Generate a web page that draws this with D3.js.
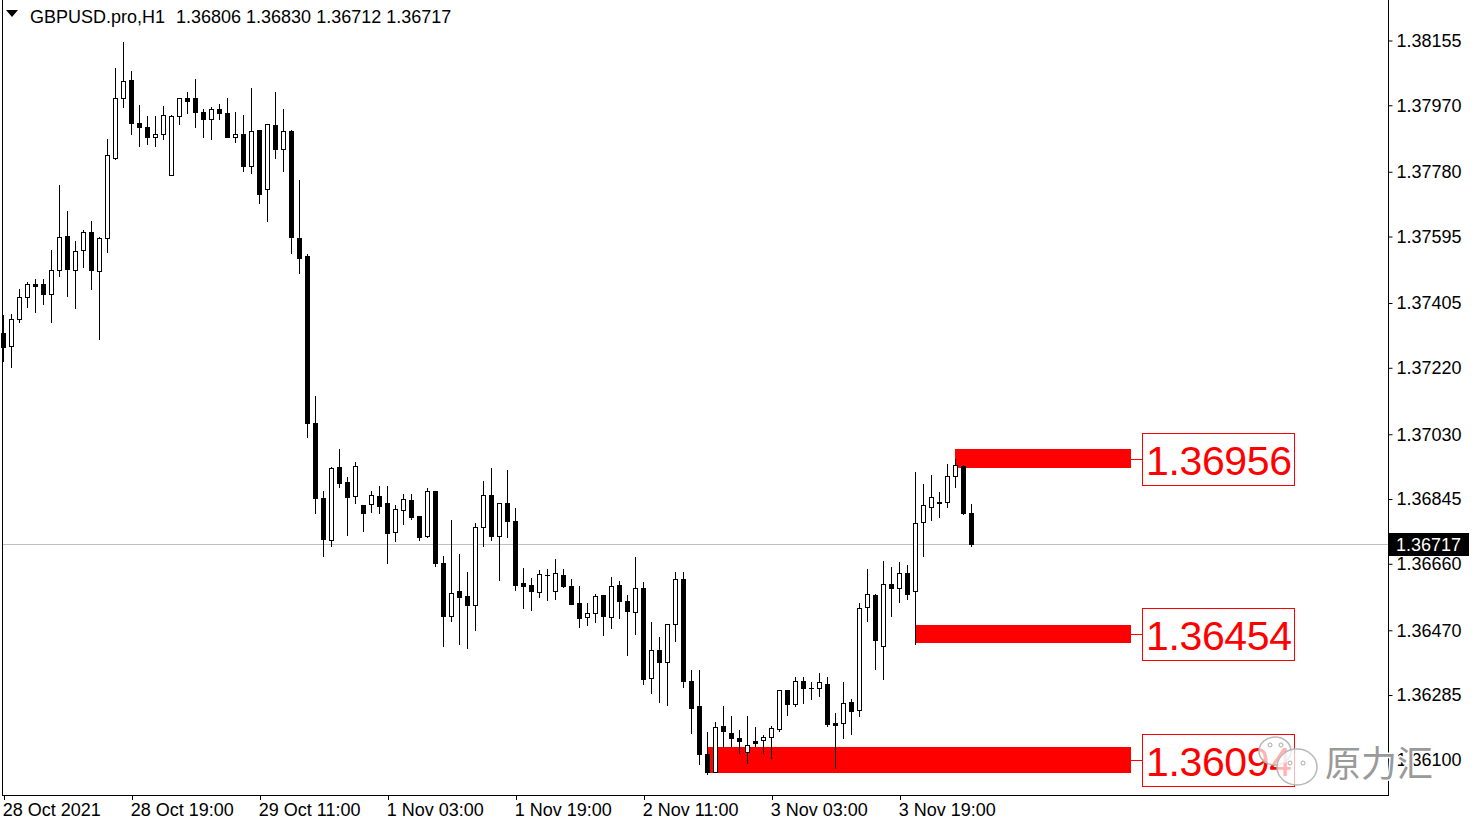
<!DOCTYPE html>
<html><head><meta charset="utf-8">
<script src="https://cdn.jsdelivr.net/npm/d3@7"></script>
<style>
body{margin:0;background:#fff;}
svg{display:block;font-family:"Liberation Sans",Arial,sans-serif;}
</style>
</head><body>
<svg id="c" width="1479" height="827"></svg>
<script>
const symbol = "GBPUSD.pro,H1";
const opens = [1.37318,1.37282,1.37358,1.37421,1.37459,1.37459,1.37430,1.37499,1.37596,1.37499,
1.37556,1.37608,1.37497,1.37590,1.37818,1.37990,1.38042,1.37919,1.37908,1.37878,
1.37887,1.37770,1.37939,1.37990,1.37990,1.37950,1.37930,1.37958,1.37947,1.37878,
1.37887,1.37797,1.37899,1.37730,1.37913,1.37844,1.37896,1.37590,1.37539,1.37063,
1.36847,1.36727,1.36936,1.36894,1.36853,1.36828,1.36830,1.36853,1.36833,1.36750,
1.36813,1.36842,1.36796,1.36740,1.36868,1.36661,1.36512,1.36581,1.36568,1.36541,
1.36766,1.36856,1.36739,1.36835,1.36783,1.36606,1.36599,1.36580,1.36627,1.36583,
1.36628,1.36597,1.36548,1.36507,1.36519,1.36571,1.36509,1.36599,1.36554,1.36521,
1.36590,1.36333,1.36414,1.36379,1.36487,1.36616,1.36326,1.36254,1.36116,1.36066,
1.36197,1.36176,1.36161,1.36123,1.36153,1.36156,1.36164,1.36188,1.36299,1.36259,
1.36324,1.36304,1.36304,1.36316,1.36204,1.36204,1.36264,1.36242,1.36536,1.36571,
1.36426,1.36602,1.36590,1.36633,1.36583,1.36779,1.36823,1.36837,1.36837,1.36912,
1.36939,1.36806];
const highs = [1.37371,1.37374,1.37444,1.37466,1.37474,1.37474,1.37556,1.37742,1.37668,1.37582,
1.37614,1.37639,1.37594,1.37874,1.38077,1.38150,1.38068,1.37970,1.37939,1.37939,
1.37968,1.37942,1.37990,1.38007,1.38045,1.37958,1.37964,1.37974,1.37990,1.37950,
1.37942,1.38018,1.37899,1.37916,1.38007,1.37958,1.37899,1.37756,1.37545,1.37139,
1.36868,1.36936,1.36988,1.36907,1.36952,1.36828,1.36868,1.36882,1.36882,1.36827,
1.36859,1.36859,1.36796,1.36877,1.36868,1.36682,1.36785,1.36688,1.36636,1.36776,
1.36896,1.36934,1.36833,1.36928,1.36819,1.36647,1.36619,1.36642,1.36645,1.36674,
1.36645,1.36616,1.36597,1.36547,1.36574,1.36571,1.36621,1.36611,1.36571,1.36680,
1.36609,1.36493,1.36452,1.36487,1.36637,1.36637,1.36357,1.36357,1.36179,1.36207,
1.36255,1.36226,1.36185,1.36226,1.36193,1.36171,1.36197,1.36299,1.36299,1.36337,
1.36337,1.36321,1.36347,1.36336,1.36233,1.36321,1.36274,1.36547,1.36645,1.36573,
1.36668,1.36652,1.36664,1.36657,1.36921,1.36888,1.36914,1.36866,1.36944,1.36958,
1.36942,1.36830];
const lows = [1.37240,1.37221,1.37352,1.37393,1.37380,1.37402,1.37352,1.37483,1.37426,1.37390,
1.37507,1.37444,1.37301,1.37552,1.37816,1.37966,1.37887,1.37854,1.37858,1.37854,
1.37873,1.37770,1.37916,1.37947,1.37909,1.37880,1.37874,1.37930,1.37880,1.37864,
1.37783,1.37777,1.37692,1.37640,1.37820,1.37783,1.37549,1.37492,1.37023,1.36806,
1.36683,1.36712,1.36880,1.36742,1.36835,1.36754,1.36809,1.36804,1.36663,1.36726,
1.36774,1.36787,1.36728,1.36737,1.36655,1.36426,1.36497,1.36432,1.36420,1.36471,
1.36712,1.36728,1.36614,1.36736,1.36585,1.36535,1.36528,1.36566,1.36557,1.36559,
1.36595,1.36544,1.36480,1.36485,1.36495,1.36457,1.36477,1.36506,1.36399,1.36460,
1.36316,1.36290,1.36266,1.36257,1.36440,1.36309,1.36177,1.36087,1.36059,1.36064,
1.36137,1.36140,1.36119,1.36092,1.36140,1.36120,1.36104,1.36183,1.36228,1.36254,
1.36263,1.36273,1.36282,1.36197,1.36076,1.36161,1.36174,1.36225,1.36497,1.36359,
1.36331,1.36512,1.36552,1.36559,1.36431,1.36683,1.36785,1.36795,1.36823,1.36880,
1.36802,1.36712];
const closes = [1.37280,1.37358,1.37423,1.37458,1.37453,1.37430,1.37499,1.37593,1.37501,1.37554,
1.37608,1.37499,1.37590,1.37827,1.37990,1.38038,1.37918,1.37907,1.37878,1.37887,
1.37941,1.37939,1.37990,1.37983,1.37950,1.37930,1.37958,1.37947,1.37880,1.37887,
1.37797,1.37896,1.37716,1.37916,1.37844,1.37897,1.37594,1.37534,1.37063,1.36847,
1.36732,1.36933,1.36890,1.36852,1.36939,1.36806,1.36856,1.36826,1.36747,1.36816,
1.36844,1.36795,1.36737,1.36868,1.36663,1.36512,1.36576,1.36564,1.36541,1.36764,
1.36856,1.36740,1.36833,1.36783,1.36599,1.36597,1.36583,1.36631,1.36628,1.36633,
1.36597,1.36546,1.36506,1.36519,1.36568,1.36512,1.36597,1.36555,1.36526,1.36590,
1.36330,1.36414,1.36379,1.36487,1.36616,1.36326,1.36247,1.36116,1.36066,1.36193,
1.36183,1.36161,1.36155,1.36141,1.36149,1.36164,1.36190,1.36299,1.36259,1.36324,
1.36306,1.36304,1.36321,1.36202,1.36200,1.36261,1.36240,1.36533,1.36573,1.36442,
1.36602,1.36590,1.36633,1.36574,1.36776,1.36828,1.36852,1.36833,1.36911,1.36942,
1.36806,1.36717];

const timeLabels = ["28 Oct 2021","28 Oct 19:00","29 Oct 11:00","1 Nov 03:00","1 Nov 19:00","2 Nov 11:00","3 Nov 03:00","3 Nov 19:00"];
const timeLabelIndex = [0,16,32,48,64,80,96,112];
const priceTicks = [1.38155,1.37970,1.37780,1.37595,1.37405,1.37220,1.37030,1.36845,1.36660,1.36470,1.36285,1.36100];

const zoneStart = [119,114,88];
const zoneEnd = 141;
const zoneTop = [1.36987,1.36485,1.36137];
const zoneBottom = [1.36933,1.36433,1.36061];
const zoneLabels = ["1.36956","1.36454","1.36094"];

const watermarkText = "原力汇";

const svg = d3.select("#c");
const plotRight = 1388, plotBottom = 795;
const n = opens.length;
const x = d3.scaleLinear().domain([0, n-1]).range([3.3, 971.3]);
const y = d3.scaleLinear().domain([1.36100, 1.38155]).range([759.8, 40.5]);
const last = n-1;
const fmt = d3.format(".5f");

// current price line
const yc = Math.round(y(closes[last])) + 0.5;
svg.append("line").attr("x1",2).attr("x2",plotRight).attr("y1",yc).attr("y2",yc)
  .attr("stroke","#c0c0c0").attr("stroke-width",1);

// zones
const zones = zoneStart.map((s,i)=>({s, top:zoneTop[i], bot:zoneBottom[i], label:zoneLabels[i]}));
const zg = svg.append("g");
zones.forEach(z=>{
  const x0 = Math.round(x(z.s)), x1 = Math.round(x(zoneEnd));
  const y0 = Math.round(y(z.top)), y1 = Math.round(y(z.bot));
  zg.append("rect").attr("x",x0).attr("y",y0).attr("width",x1-x0).attr("height",y1-y0).attr("fill","#ff0000");
  const ym = Math.round((y0+y1)/2)+0.5;
  zg.append("line").attr("x1",x1).attr("x2",1142.5).attr("y1",ym).attr("y2",ym).attr("stroke","#ff0000");
  zg.append("rect").attr("x",1142.5).attr("y",ym-26).attr("width",152).attr("height",52)
    .attr("fill","#fff").attr("stroke","#ff0000").attr("stroke-width",1);
  zg.append("text").attr("x",1146).attr("y",ym+15).attr("font-size",41).attr("fill","#ff0000")
    .attr("textLength",146).text(z.label);
});

// candles
const cg = svg.append("g");
for (let i=0;i<n;i++){
  const cx = Math.round(x(i)) + 0.5;
  const o=opens[i], c=closes[i];
  cg.append("line").attr("x1",cx).attr("x2",cx)
    .attr("y1",Math.round(y(highs[i]))).attr("y2",Math.round(y(lows[i]))+1)
    .attr("stroke","#000").attr("stroke-width",1);
  const top = Math.round(y(Math.max(o,c))), bot = Math.round(y(Math.min(o,c)));
  if (bot - top < 1) {
    cg.append("line").attr("x1",cx-2.5).attr("x2",cx+2.5).attr("y1",top+0.5).attr("y2",top+0.5)
      .attr("stroke","#000");
  } else if (c >= o) {
    cg.append("rect").attr("x",cx-2).attr("y",top+0.5).attr("width",4).attr("height",bot-top)
      .attr("fill","#fff").attr("stroke","#000").attr("stroke-width",1);
  } else {
    cg.append("rect").attr("x",cx-2.5).attr("y",top).attr("width",5).attr("height",bot-top+1)
      .attr("fill","#000");
  }
}

// frame
svg.append("line").attr("x1",2.5).attr("x2",2.5).attr("y1",0).attr("y2",plotBottom+0.5).attr("stroke","#000");
svg.append("line").attr("x1",plotRight+0.5).attr("x2",plotRight+0.5).attr("y1",0).attr("y2",plotBottom+0.5).attr("stroke","#000");
svg.append("line").attr("x1",2).attr("x2",plotRight+1).attr("y1",plotBottom+0.5).attr("y2",plotBottom+0.5).attr("stroke","#000");

// y axis
const yAxis = d3.axisRight(y).tickValues(priceTicks).tickFormat(fmt).tickSize(4).tickPadding(4);
const ya = svg.append("g").attr("transform",`translate(${plotRight+0.5},0)`).call(yAxis);
ya.select(".domain").remove();
ya.selectAll("text").attr("font-size",18).attr("fill","#000").attr("font-family","Liberation Sans, Arial, sans-serif");
ya.selectAll("line").attr("stroke","#000");

// current price label
svg.append("rect").attr("x",plotRight+1).attr("y",yc-11.5).attr("width",80).attr("height",23).attr("fill","#000");
svg.append("text").attr("x",1396).attr("y",yc+6.5).attr("font-size",18).attr("fill","#fff").text(fmt(closes[last]));

// x axis
const xa = svg.append("g");
timeLabelIndex.forEach((idx,k)=>{
  const tx = Math.round(x(idx)) + 1.5;
  xa.append("line").attr("x1",tx).attr("x2",tx).attr("y1",plotBottom).attr("y2",plotBottom+5).attr("stroke","#000");
  xa.append("text").attr("x",x(idx)-0.5).attr("y",816).attr("font-size",18).attr("fill","#000").text(timeLabels[k]);
});

// header
svg.append("path").attr("d","M6,10L18,10L12,17Z").attr("fill","#000");
svg.append("text").attr("x",30).attr("y",23).attr("font-size",18).attr("fill","#000").text(symbol);
svg.append("text").attr("x",176).attr("y",23).attr("font-size",18).attr("fill","#000")
  .text([opens[last],highs[last],lows[last],closes[last]].map(fmt).join(" "));

// watermark
const wm = svg.append("g");
wm.append("ellipse").attr("cx",1275).attr("cy",751).attr("rx",16).attr("ry",14)
  .attr("fill","#fff").attr("fill-opacity",0.7).attr("stroke","#b8b8b8").attr("stroke-width",1.5);
wm.append("ellipse").attr("cx",1297).attr("cy",767).attr("rx",20).attr("ry",18)
  .attr("fill","#fff").attr("fill-opacity",0.7).attr("stroke","#b8b8b8").attr("stroke-width",1.5);
[[1270,745],[1281,745],[1290,763],[1303,763]].forEach(p=>{
  wm.append("circle").attr("cx",p[0]).attr("cy",p[1]).attr("r",2).attr("fill","#fff").attr("stroke","#aaa");
});
wm.append("text").attr("x",1325).attr("y",777).attr("font-size",36)
  .attr("font-family","Noto Sans CJK SC, sans-serif").attr("fill","#9a9a9a")
  .attr("stroke","#fff").attr("stroke-width",3).attr("paint-order","stroke").text(watermarkText);
</script>
</body></html>
